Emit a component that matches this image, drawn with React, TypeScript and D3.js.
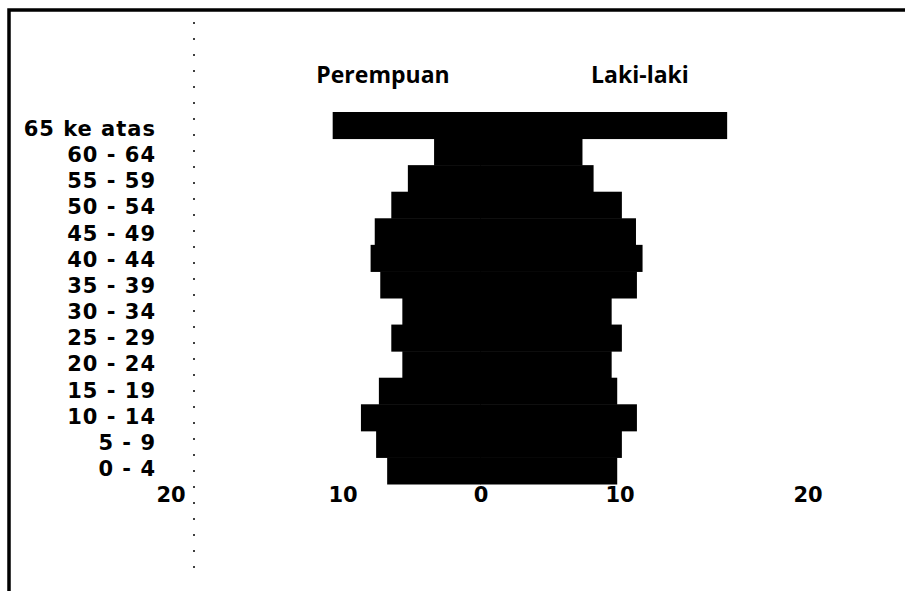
import { useEffect, useRef } from "react";
import * as d3 from "d3";

const ageGroups = [
  "65 ke atas",
  "60 - 64",
  "55 - 59",
  "50 - 54",
  "45 - 49",
  "40 - 44",
  "35 - 39",
  "30 - 34",
  "25 - 29",
  "20 - 24",
  "15 - 19",
  "10 - 14",
  "5 - 9",
  "0 - 4"
];

// nilai (skala sumbu di gambar tidak rata)
const perempuan = [10.6, 3.4, 5.3, 6.5, 7.7, 8.0, 7.3, 5.7, 6.5, 5.7, 7.4, 8.7, 7.6, 6.8];
const lakiLaki = [15.7, 7.3, 8.1, 10.1, 10.85, 11.2, 10.9, 9.4, 10.1, 9.4, 9.8, 10.9, 10.1, 9.8];

const xTicks = [-20, -10, 0, 10, 20];

const labelFont = "'DejaVu Sans', Verdana, sans-serif";

const App = () => {
  const svgRef = useRef<SVGSVGElement | null>(null);

  useEffect(() => {
    const svg = d3.select(svgRef.current);
    svg.selectAll("*").remove();

    const width = 905;
    const height = 591;

    svg.attr("width", width).attr("height", height);

    // skala polilinear, mengikuti posisi label di gambar asli
    const xScale = d3.scaleLinear()
      .domain([-20, -10, 0, 10, 20])
      .range([171, 343, 481, 620, 808]);
    const yScale = d3.scaleBand<string>().domain(ageGroups).range([112, 484]).padding(0);
    // label umur sedikit lebih rapat dari batang
    const labelY = d3.scalePoint<string>().domain(ageGroups).range([128, 468]);

    // bingkai kiri & atas
    svg.append("path")
      .attr("d", `M9,${height} L9,10 L${width},10`)
      .attr("fill", "none")
      .attr("stroke", "#000")
      .attr("stroke-width", 3.5);

    // garis putus-putus
    svg.append("line")
      .attr("x1", 194)
      .attr("x2", 194)
      .attr("y1", 22)
      .attr("y2", 580)
      .attr("stroke", "#000")
      .attr("stroke-width", 1.5)
      .attr("stroke-dasharray", "2 14");

    // batang perempuan
    svg.append("g")
      .selectAll("rect")
      .data(ageGroups)
      .enter()
      .append("rect")
      .attr("x", (_d, i) => xScale(-perempuan[i]))
      .attr("y", d => yScale(d) ?? 0)
      .attr("width", (_d, i) => xScale(0) - xScale(-perempuan[i]))
      .attr("height", yScale.bandwidth() + 0.5)
      .attr("fill", "#000");

    // batang laki-laki
    svg.append("g")
      .selectAll("rect")
      .data(ageGroups)
      .enter()
      .append("rect")
      .attr("x", xScale(0) - 0.5)
      .attr("y", d => yScale(d) ?? 0)
      .attr("width", (_d, i) => xScale(lakiLaki[i]) - xScale(0) + 0.5)
      .attr("height", yScale.bandwidth() + 0.5)
      .attr("fill", "#000");

    // label umur
    svg.append("g")
      .selectAll("text")
      .data(ageGroups)
      .enter()
      .append("text")
      .attr("x", 156)
      .attr("y", d => (labelY(d) ?? 0) + 8)
      .attr("text-anchor", "end")
      .attr("font-family", labelFont)
      .attr("font-weight", "bold")
      .attr("font-size", "21px")
      .attr("letter-spacing", "1px")
      .text(d => d);

    // label sumbu x
    svg.append("g")
      .selectAll("text")
      .data(xTicks)
      .enter()
      .append("text")
      .attr("x", d => xScale(d))
      .attr("y", 502)
      .attr("text-anchor", "middle")
      .attr("font-family", labelFont)
      .attr("font-weight", "bold")
      .attr("font-size", "21px")
      .text(d => Math.abs(d));

    // judul seri
    svg.append("text")
      .attr("x", 383)
      .attr("y", 83)
      .attr("text-anchor", "middle")
      .attr("font-family", "'Open Sans', sans-serif")
      .attr("font-weight", "bold")
      .attr("font-size", "23px")
      .text("Perempuan");

    svg.append("text")
      .attr("x", 640)
      .attr("y", 83)
      .attr("text-anchor", "middle")
      .attr("font-family", "'Open Sans', sans-serif")
      .attr("font-weight", "bold")
      .attr("font-size", "23px")
      .text("Laki-laki");
  }, []);

  return (
    <svg
      ref={svgRef}
      style={{ position: "absolute", left: 0, top: 0, display: "block", background: "#fff" }}
    ></svg>
  );
};

export default App;
